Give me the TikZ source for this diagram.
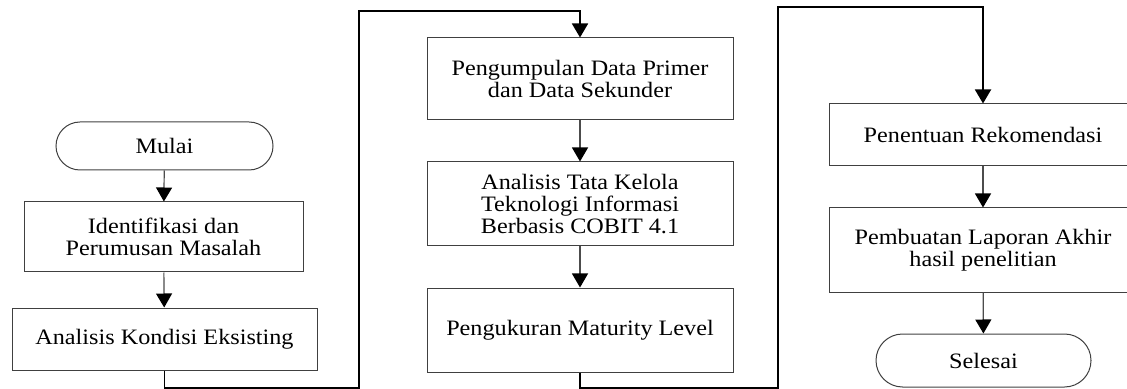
\documentclass[tikz,border=0pt]{standalone}
\usepackage{fontspec}
\setmainfont{Liberation Serif}[FakeStretch=1.1]
\usetikzlibrary{arrows.meta,positioning,shapes.misc}
\tikzset{
  kotak/.style={draw=black!75,line width=0.5pt,align=center,inner sep=2pt,
                font=\fontsize{11}{11}\selectfont},
  terminal/.style={kotak,rounded rectangle},
  panah/.style={-{Triangle[width=8pt,length=7pt,color=black]},draw=black!70,line width=0.6pt},
  sambung/.style={-{Triangle[width=8pt,length=7pt]},line width=0.9pt},
}

\begin{document}
\begin{tikzpicture}[x=0.5pt,y=-0.5pt]
  \useasboundingbox (0,0) rectangle (1127,389);
  % kolom 1
  \node[terminal,minimum width=112.5pt,minimum height=24pt] (mulai) at (164.5,146) {Mulai};
  \node[kotak,minimum width=139.5pt,minimum height=35pt] (identifikasi) at (163.5,237) {Identifikasi dan\\Perumusan Masalah};
  \node[kotak,minimum width=152.5pt,minimum height=31pt] (kondisi) at (164.5,339) {Analisis Kondisi Eksisting};
  % kolom 2
  \node[kotak,minimum width=153pt,minimum height=41pt] (pengumpulan) at (580,79) {Pengumpulan Data Primer\\dan Data Sekunder};
  \node[kotak,minimum width=153pt,minimum height=42pt] (tatakelola) at (580,204) {Analisis Tata Kelola\\Teknologi Informasi\\Berbasis COBIT 4.1};
  \node[kotak,minimum width=153pt,minimum height=42pt] (maturity) at (580,330) {Pengukuran Maturity Level};
  % kolom 3
  \node[kotak,minimum width=154pt,minimum height=31pt] (rekomendasi) at (983,135) {Penentuan Rekomendasi};
  \node[kotak,minimum width=154pt,minimum height=42pt] (laporan) at (983,250) {Pembuatan Laporan Akhir\\hasil penelitian};
  \node[terminal,minimum width=111.5pt,minimum height=26.5pt] (selesai) at (983.5,360.5) {Selesai};

  \coordinate (b1) at (359,388); \coordinate (t1) at (359,11);
  \coordinate (b2) at (778,388); \coordinate (t2) at (778,7);

  \draw[panah] (mulai) -- (identifikasi);
  \draw[panah] (identifikasi) -- (kondisi);
  \draw[panah] (pengumpulan) -- (tatakelola);
  \draw[panah] (tatakelola) -- (maturity);
  \draw[panah] (rekomendasi) -- (laporan);
  \draw[panah] (laporan) -- (selesai);
  \draw[sambung] (kondisi.south) |- (b1) -- (t1) -| (pengumpulan.north);
  \draw[sambung] (maturity.south) |- (b2) -- (t2) -| (rekomendasi.north);
\end{tikzpicture}
\end{document}
